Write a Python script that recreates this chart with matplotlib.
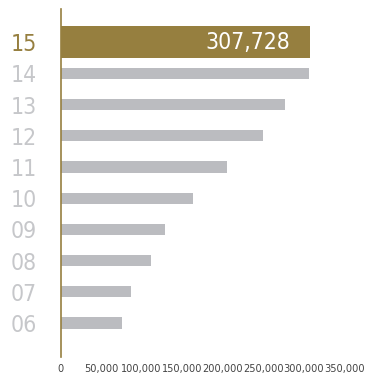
import matplotlib.pyplot as plt
from matplotlib.ticker import FuncFormatter

years = ["06", "07", "08", "09", "10", "11", "12", "13", "14", "15"]
values = [75700, 86900, 111700, 129100, 163800, 204800, 249400, 276700, 306000, 307728]
highlight = "15"

GOLD = "#967f3f"
BAR_GREY = "#bbbcc0"
LABEL_GREY = "#c6c7ca"

plt.rcParams["font.family"] = ["DejaVu Sans"]
plt.rcParams["font.stretch"] = "condensed"

fig = plt.figure(figsize=(3.75, 3.8), dpi=100)
ax = fig.add_axes([60.5 / 375, 23 / 380, 284 / 375, 348 / 380])

pos = list(range(len(years)))
heights = [1.03 if y == highlight else 0.36 for y in years]
colors = [GOLD if y == highlight else BAR_GREY for y in years]
ax.barh(pos, values, height=heights, color=colors, linewidth=0)

# value label inside the highlighted bar
i = years.index(highlight)
ax.annotate(f"{values[i]:,}", (values[i], pos[i]), xytext=(-14.5, 0),
            textcoords="offset points", color="white", fontsize=16.5,
            ha="right", va="center")

ax.set_xlim(0, 350000)
ax.set_ylim(-1.09, 10.06)
ax.set_xticks(range(0, 350001, 50000))
ax.xaxis.set_major_formatter(FuncFormatter(lambda v, _: f"{int(v):,}"))
ax.set_yticks(pos)
ax.set_yticklabels(years, fontsize=16.5)
for lbl, y in zip(ax.get_yticklabels(), years):
    lbl.set_color(GOLD if y == highlight else LABEL_GREY)

ax.tick_params(axis="y", length=0, pad=17)
ax.tick_params(axis="x", length=0, pad=5, labelsize=7.8, labelcolor="#444444")

for side in ["top", "right", "bottom"]:
    ax.spines[side].set_visible(False)
ax.spines["left"].set_color(GOLD)
ax.spines["left"].set_linewidth(1.2)

fig.savefig("out.png", dpi=100)
